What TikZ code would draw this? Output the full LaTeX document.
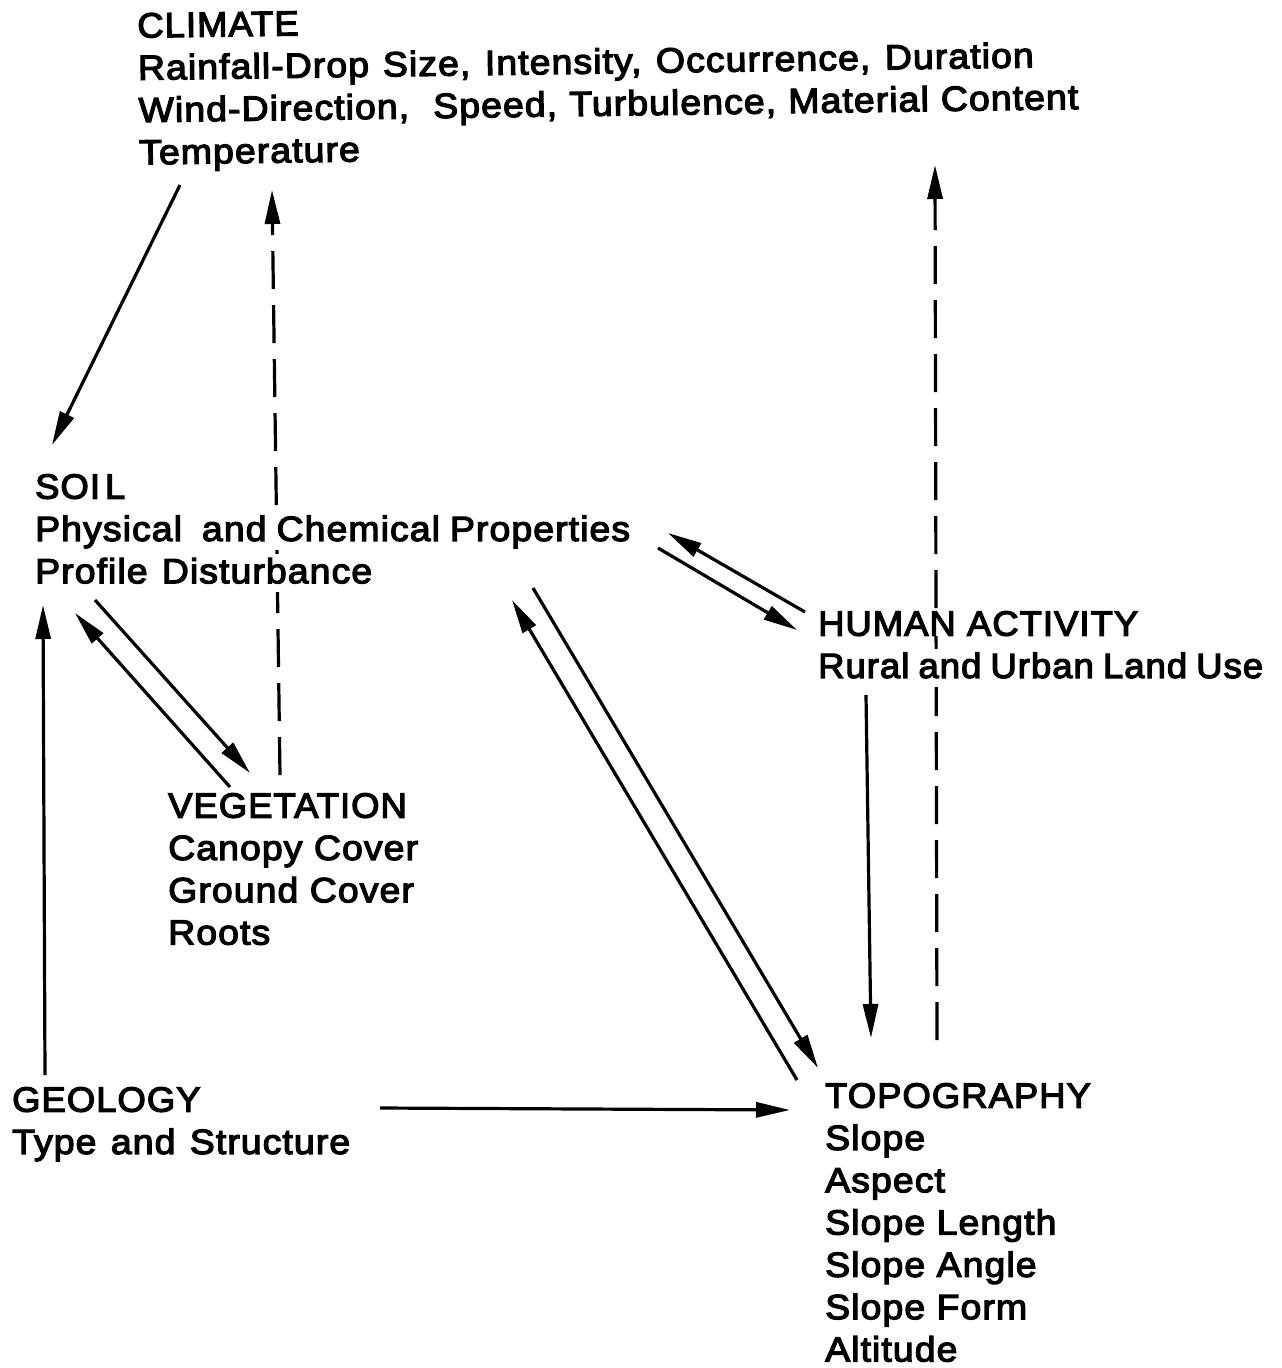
\documentclass[tikz,border=0pt]{standalone}
\usepackage{fontspec}
\setmainfont{Liberation Sans}[LetterSpace=3.0,FakeBold=3.5,FakeStretch=1.07]
\newfontfamily\hd{Liberation Sans}[LetterSpace=3.0,FakeBold=3.5,FakeStretch=1.04]
\usetikzlibrary{arrows.meta,backgrounds}
\newcommand{\wb}[1]{{\setlength{\fboxsep}{0pt}\colorbox{white}{\rule[-9pt]{0pt}{38pt}#1}}}
\newcommand{\wbn}[1]{{\setlength{\fboxsep}{0pt}\colorbox{white}{#1}}}
\newcommand{\sline}[2]{\makebox[#1pt][s]{#2}}
\begin{document}
\begin{tikzpicture}[x=1pt,y=-1pt,
  lbl/.style={anchor=north west,inner sep=0pt,align=left,font=\fontsize{35}{42.3}\selectfont},
  conn/.style={line width=3.2pt,-{Triangle[length=34pt,width=15pt]}},
  dconn/.style={conn,dash pattern=on 38pt off 16pt}]
\useasboundingbox (0,0) rectangle (1282,1368);
\node[lbl,rotate=0.8] (climate) at (137,13) {{\hd CLIMATE}\\
\sline{896}{Rainfall-Drop Size, Intensity, Occurrence, Duration}\\
\sline{940}{Wind-Direction,\ \ Speed, Turbulence, Material Content}\\
Temperature};
\node[lbl] (soil) at (35,474) {{\hd SOI\kern5pt L}\\
\wb{\sline{595}{Physical\ \ and Chemical Properties}}\\
\wb{\sline{337}{Profile Disturbance}}};
\node[lbl] (veg) at (168,793) {{\hd VEGETATION}\\Canopy Cover\\Ground Cover\\Roots};
\node[lbl] (human) at (818,611) {\wbn{\hd HUMAN ACTIVITY}\\
\wb{\hd\sline{445}{Rural and Urban Land Use}}};
\node[lbl] (geo) at (12,1087) {{\hd GEOLOGY}\\\sline{338}{Type and Structure}};
\node[lbl] (topo) at (825,1083) {{\hd TOPOGRAPHY}\\Slope\\Aspect\\Slope Length\\Slope Angle\\Slope Form\\Altitude};
\begin{scope}[on background layer]
\fill[white] (0,0) rectangle (1282,1368);
\draw[conn] ([shift={(43,172)}]climate.north west) -- ([shift={(17,-29)}]soil.north west);
\draw[dconn] ([shift={(112,-18)}]veg.north west) -- ([shift={(135,177)}]climate.north west);
\draw[conn] ([shift={(60,126)}]soil.north west) -- ([shift={(82,-20)}]veg.north west);
\draw[conn] ([shift={(62,-6)}]veg.north west) -- ([shift={(40,139)}]soil.north west);
\draw[conn] ([shift={(33,-12)}]geo.north west) -- ([shift={(8,131)}]soil.north west);
\draw[conn] ([shift={(-13,1)}]human.north west) -- ([shift={(633,59)}]soil.north west);
\draw[conn] ([shift={(623,74)}]soil.north west) -- ([shift={(-21,19)}]human.north west);
\draw[conn] ([shift={(498,114)}]soil.north west) -- ([shift={(-7,-15)}]topo.north west);
\draw[conn] ([shift={(-28,-3)}]topo.north west) -- ([shift={(477,126)}]soil.north west);
\draw[conn] ([shift={(48,84)}]human.north west) -- ([shift={(46,-45)}]topo.north west);
\draw[dconn] ([shift={(112,-43)}]topo.north west) -- ([shift={(798,152)}]climate.north west);
\draw[conn] ([shift={(368,21)}]geo.north west) -- ([shift={(-35,27)}]topo.north west);
\end{scope}
\end{tikzpicture}
\end{document}
